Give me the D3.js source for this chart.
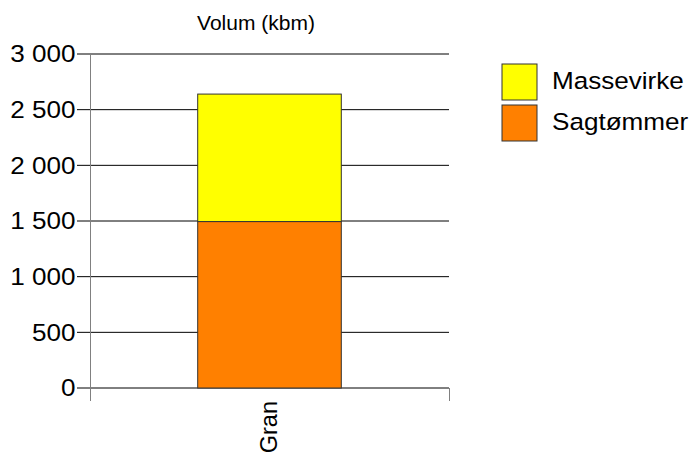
<!DOCTYPE html>
<html>
<head>
<meta charset="utf-8">
<script src="https://cdn.jsdelivr.net/npm/d3@7"></script>
<style>
  html, body { margin: 0; padding: 0; background: #fff; }
  svg { display: block; font-family: "Liberation Sans", Arial, sans-serif; }
</style>
</head>
<body>
<svg id="chart" width="692" height="457"></svg>
<script>
const categories = ["Gran"];
const seriesNames = ["Sagtømmer", "Massevirke"];
const sagtommer = [1495];
const massevirke = [1145];
const yTicks = [0, 500, 1000, 1500, 2000, 2500, 3000];
const yTickLabels = ["0", "500", "1 000", "1 500", "2 000", "2 500", "3 000"];
const colors = ["#FF8000", "#FFFF00"];
const title = "Volum (kbm)";

const svg = d3.select("#chart");
const pLeft = 90, pRight = 449, pTop = 54, pBottom = 388;

const x = d3.scaleBand().domain(categories).range([pLeft, pRight]).paddingInner(0.6).paddingOuter(0.3);
const y = d3.scaleLinear().domain([0, 3000]).range([pBottom, pTop]);

const data = categories.map((c, i) => ({ cat: c, "Sagtømmer": sagtommer[i], "Massevirke": massevirke[i] }));
const stacked = d3.stack().keys(seriesNames)(data);

// gridlines
svg.append("g").selectAll("line").data(yTicks).join("line")
  .attr("x1", 77).attr("x2", pRight)
  .attr("y1", d => y(d)).attr("y2", d => y(d))
  .attr("stroke", "#000").attr("stroke-width", 1);

// y axis line
svg.append("line").attr("x1", pLeft + 0.5).attr("x2", pLeft + 0.5)
  .attr("y1", pTop).attr("y2", 401).attr("stroke", "#808080");
// x end tick
svg.append("line").attr("x1", pRight + 0.5).attr("x2", pRight + 0.5)
  .attr("y1", pBottom).attr("y2", 401).attr("stroke", "#808080");

// tick labels
const sx = 1.11;
svg.append("g").selectAll("text").data(yTicks).join("text")
  .attr("transform", d => `translate(75.5,${y(d)}) scale(${sx},1)`)
  .attr("text-anchor", "end").attr("dy", "0.36em")
  .attr("font-size", 23.5).attr("fill", "#000")
  .text((d, i) => yTickLabels[i]);

// bars
svg.append("g").selectAll("g").data(stacked).join("g")
  .attr("fill", (d, i) => colors[i])
  .selectAll("rect").data(d => d).join("rect")
  .attr("x", d => x(d.data.cat))
  .attr("width", x.bandwidth())
  .attr("y", d => y(d[1]))
  .attr("height", d => y(d[0]) - y(d[1]))
  .attr("stroke", "#333").attr("stroke-width", 1);

// category label
svg.append("g").selectAll("text").data(categories).join("text")
  .attr("transform", d => `translate(${x(d) + x.bandwidth() / 2 + 7.5},401) rotate(-90)`)
  .attr("text-anchor", "end").attr("font-size", 23.5).attr("fill", "#000")
  .text(d => d);

// title
svg.append("text").attr("x", 256).attr("y", 30).attr("text-anchor", "middle")
  .attr("font-size", 21).attr("fill", "#000").text(title);

// legend
const legendOrder = ["Massevirke", "Sagtømmer"];
const lg = svg.append("g").selectAll("g").data(legendOrder).join("g")
  .attr("transform", (d, i) => `translate(502,${64 + i * 41})`);
lg.append("rect").attr("width", 35).attr("height", 36)
  .attr("fill", d => colors[seriesNames.indexOf(d)]).attr("stroke", "#333");
lg.append("text").attr("transform", `translate(50,25) scale(${sx},1)`)
  .attr("font-size", 23.5).attr("fill", "#000").text(d => d);
</script>
</body>
</html>
